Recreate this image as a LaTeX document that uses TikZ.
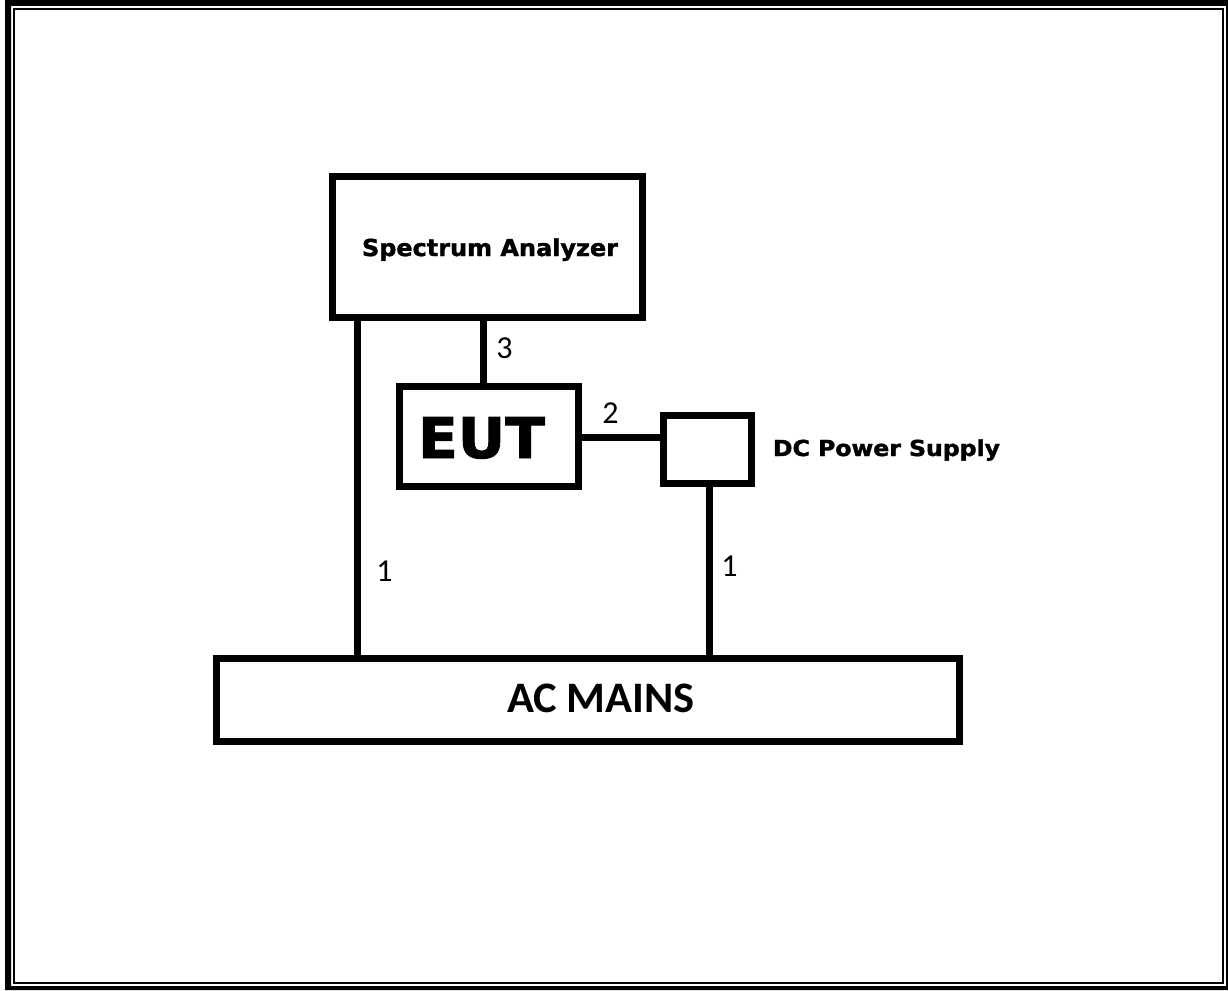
\documentclass[tikz,border=0pt]{standalone}
\usepackage{fontspec}
\usepackage{graphicx}
\newfontfamily\dvsans{DejaVu Sans}[BoldFeatures={FakeBold=1.6}]
\newfontfamily\carl{Carlito}
\begin{document}
\begin{tikzpicture}[x=1pt,y=-1pt,
  box/.style={draw=black, line width=7pt, inner sep=0pt, outer sep=0pt, rectangle},
  wire/.style={line width=7pt},
  lab/.style={anchor=base, inner sep=0pt, font=\carl\fontsize{32}{32}\selectfont},
  title/.style={anchor=base, inner sep=0pt}]
\useasboundingbox (0,0) rectangle (1228,990);
\fill[white] (0,0) rectangle (1228,990);
% frame
\fill[black, even odd rule] (5,0) rectangle (1228,990) (11,6) rectangle (1226,986);
\draw[line width=2pt] (14,9) rectangle (1223,983);
% boxes
\node[box, minimum width=309.5pt, minimum height=141.5pt] (sa) at (487.25,246.75) {};
\node[box, minimum width=179pt, minimum height=100.5pt] (eut) at (488.5,436.25) {};
\node[box, minimum width=88pt, minimum height=68pt] (dc) at (707,449.5) {};
\node[box, minimum width=743pt, minimum height=83pt] (ac) at (587.5,699.5) {};
% texts
\node[title] (satext) at (490,256) {\resizebox{256pt}{\height}{\dvsans\bfseries\fontsize{23.3}{24}\selectfont Spectrum Analyzer}};
\node[title] (euttext) at (481.5,458) {\resizebox{127pt}{\height}{\dvsans\bfseries\fontsize{56}{56}\selectfont EUT}};
\node[title] (dctext) at (886.5,456) {\resizebox{227pt}{\height}{\dvsans\bfseries\fontsize{22}{22}\selectfont DC Power Supply}};
\node[title] (actext) at (601,712) {\resizebox{188pt}{\height}{\carl\bfseries\fontsize{43.5}{44}\selectfont AC MAINS}};
% connector x/y positions
\coordinate (xa) at (357,0);
\coordinate (xb) at (483,0);
\coordinate (xc) at (709,0);
\coordinate (yd) at (0,437);
\draw[wire] (sa.south -| xa) -- (ac.north -| xa);
\draw[wire] (sa.south -| xb) -- (eut.north -| xb);
\draw[wire] (eut.east |- yd) -- (dc.west |- yd);
\draw[wire] (dc.south -| xc) -- (ac.north -| xc);
% labels
\node[lab] (l3) at (504.5,358) {3};
\node[lab] (l2) at (610.5,423) {2};
\node[lab] (l1a) at (384.5,581) {1};
\node[lab] (l1b) at (729.5,576) {1};
\end{tikzpicture}
\end{document}
